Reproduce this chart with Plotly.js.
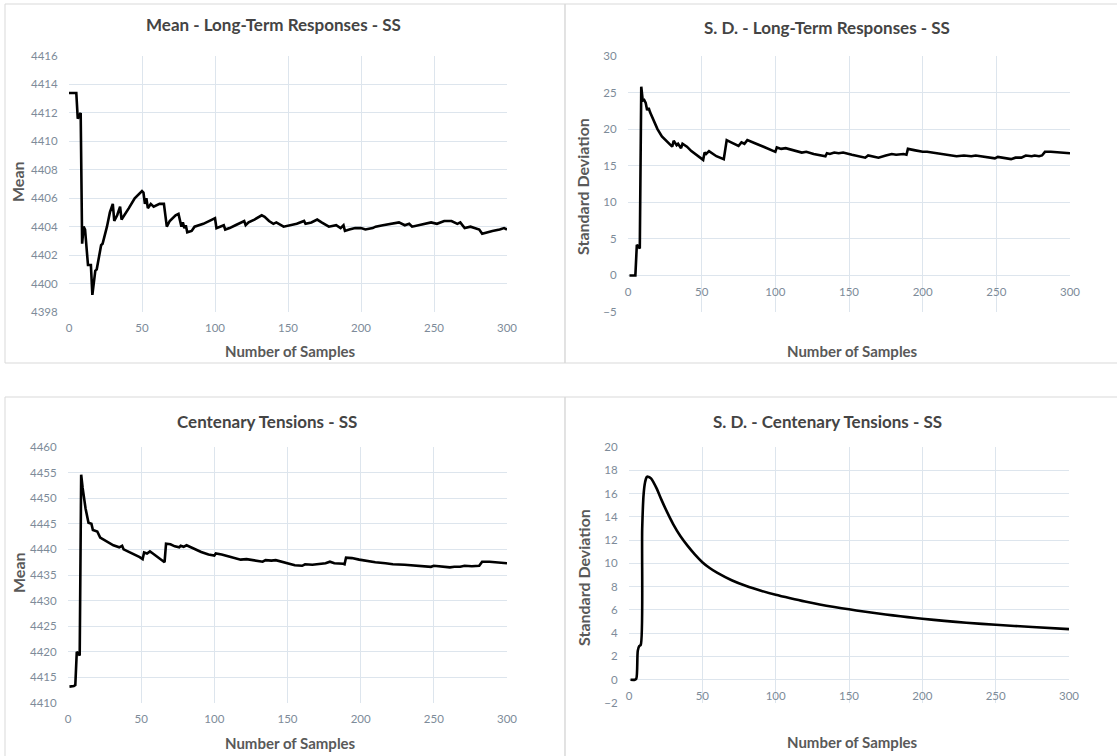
<!DOCTYPE html>
<html>
<head>
<meta charset="utf-8">
<script src="https://cdn.plot.ly/plotly-3.0.1.min.js"></script>
<style>
html,body{margin:0;padding:0;background:#fff;}
#chart{width:1117px;height:756px;}
</style>
</head>
<body>
<div id="chart"></div>
<script>
// ---------- DATA ----------
const titles = ["Mean - Long-Term Responses - SS", "S. D. - Long-Term Responses - SS",
                "Centenary Tensions - SS", "S. D. - Centenary Tensions - SS"];
const xAxisTitle = "Number of Samples";
const yAxisTitles = ["Mean", "Standard Deviation", "Mean", "Standard Deviation"];

// Panel 1: Mean - Long-Term Responses
const meanLtX = [0,5,6,7,8,9,10,11,12,13,15,16,18,19,22,23,26,28,30,31,33,35,36,38,41,45,50,51,52,53,54,56,58,62,65,67,69,73,75,77,78,79,80,81,84,86,90,92,98,100,101,103,106,107,110,114,118,120,121,123,127,132,134,137,140,142,147,152,156,161,162,166,170,173,176,178,183,186,188,189,192,196,200,203,208,210,215,220,226,230,233,235,240,248,252,257,262,266,268,271,275,279,281,283,286,290,295,298,300];
const meanLtY = [4413.4,4413.4,4411.6,4411.8,4412.0,4402.8,4404.0,4403.8,4402.6,4401.3,4401.3,4399.2,4400.9,4401.0,4402.7,4402.8,4404.0,4405.0,4405.6,4404.4,4404.8,4405.4,4404.5,4404.8,4405.3,4406.0,4406.5,4406.4,4405.6,4406.0,4405.3,4405.6,4405.4,4405.6,4405.6,4404.0,4404.4,4404.8,4404.9,4404.0,4404.3,4403.9,4404.1,4403.6,4403.7,4404.0,4404.1,4404.2,4404.5,4404.6,4403.9,4404.0,4404.1,4403.8,4403.9,4404.1,4404.3,4404.4,4404.1,4404.3,4404.5,4404.8,4404.7,4404.4,4404.2,4404.3,4404.0,4404.1,4404.2,4404.4,4404.2,4404.3,4404.5,4404.3,4404.1,4404.0,4404.1,4403.9,4404.1,4403.7,4403.8,4403.9,4403.9,4403.8,4403.9,4404.0,4404.1,4404.2,4404.3,4404.1,4404.2,4404.0,4404.1,4404.3,4404.2,4404.4,4404.4,4404.2,4404.3,4403.9,4404.0,4403.9,4403.8,4403.5,4403.6,4403.7,4403.8,4403.9,4403.8];

// Panel 2: S.D. - Long-Term Responses
const sdLtX = [1,5,6,8,9,10,11,12,13,14,15,17,20,23,27,30,31,33,34,36,37,40,43,47,51,52,53,55,57,60,65,67,70,74,75,77,79,81,83,87,92,97,100,101,104,107,112,118,121,126,134,135,137,140,143,146,152,156,161,163,166,170,175,179,182,187,189,190,195,200,203,210,217,223,228,233,236,243,249,251,255,260,263,267,270,274,276,279,281,283,287,292,296,300];
const sdLtY = [0,0,4.2,3.7,25.8,23.9,24.0,23.6,22.6,22.9,22.3,21.4,20.0,19.0,18.2,17.6,18.4,17.8,18.0,17.4,18.0,17.6,17.0,16.4,15.8,16.8,16.6,17.0,16.7,16.3,15.9,18.5,18.2,17.8,17.7,18.2,18.0,18.5,18.3,18.0,17.6,17.2,16.9,17.5,17.3,17.4,17.1,16.8,16.9,16.6,16.3,16.7,16.6,16.8,16.7,16.8,16.5,16.3,16.1,16.4,16.3,16.1,16.4,16.6,16.5,16.6,16.5,17.3,17.1,16.9,16.9,16.7,16.5,16.3,16.4,16.3,16.4,16.2,16.0,16.2,16.1,15.9,16.1,16.1,16.4,16.3,16.4,16.3,16.4,16.9,16.9,16.8,16.7,16.7];

// Panel 3: Mean - Centenary Tensions
const meanCtX = [1,4,5,6,8,9,10,12,14,16,17,20,22,25,29,31,35,37,38,42,45,49,51,52,54,56,58,61,64,66,67,70,73,76,77,79,81,84,87,91,96,100,101,105,110,115,118,122,128,133,135,139,142,146,150,155,160,162,167,172,176,179,182,188,189,190,194,199,203,210,217,222,230,237,243,248,250,256,261,264,268,271,276,281,283,288,295,300];
const meanCtY = [4413.2,4413.3,4413.5,4420.0,4419.3,4454.6,4452.0,4448.0,4445.2,4445.0,4443.8,4443.5,4442.3,4441.8,4441.2,4440.8,4440.4,4440.7,4440.0,4439.5,4439.0,4438.5,4438.1,4439.4,4439.2,4439.6,4439.2,4438.5,4437.8,4437.5,4441.1,4441.0,4440.6,4440.4,4440.7,4440.5,4440.8,4440.4,4440.0,4439.5,4439.0,4438.8,4439.2,4439.0,4438.6,4438.2,4438.0,4438.1,4437.8,4437.6,4437.9,4437.8,4437.9,4437.6,4437.2,4436.9,4436.8,4437.1,4437.0,4437.1,4437.3,4437.6,4437.3,4437.2,4437.1,4438.4,4438.3,4438.0,4437.8,4437.5,4437.3,4437.1,4437.0,4436.9,4436.7,4436.6,4436.8,4436.7,4436.5,4436.6,4436.6,4436.8,4436.7,4436.8,4437.6,4437.6,4437.4,4437.3];

// Panel 4: S.D. - Centenary Tensions
const sdCtX = [1,4,5,6,7,8,9,10,11,12,13,15,17,19,22,26,30,35,40,45,50,55,60,70,80,90,100,110,120,130,140,150,160,170,180,190,200,215,230,250,275,300];
const sdCtY = [0,0,0.1,2.5,2.9,3.0,13.0,16.0,17.0,17.4,17.45,17.3,16.9,16.4,15.5,14.4,13.4,12.35,11.5,10.75,10.1,9.6,9.2,8.55,8.05,7.65,7.3,7.0,6.72,6.47,6.25,6.05,5.86,5.69,5.53,5.38,5.24,5.06,4.9,4.72,4.53,4.35];

// ---------- LAYOUT HELPERS ----------
const W = 1117, H = 756;
const fx = p => p / W;
const fy = p => 1 - p / H;

const gridColor = "#dde5ed";
const tickFont = {family: "Lato, 'Open Sans', sans-serif", size: 11.5, color: "#7d8b99"};
const titleFont = {family: "Lato, 'Open Sans', sans-serif", size: 17, color: "#444444", weight: "bold"};
const axTitleFont = {family: "Lato, 'Open Sans', sans-serif", size: 15, color: "#595959", weight: "bold"};
const yTitleFont = {family: "Lato, 'Open Sans', sans-serif", size: 16, color: "#595959", weight: "bold"};

function xax(domain, anchor, extra) {
  return Object.assign({
    domain: domain, anchor: anchor, range: [0, 300], dtick: 50, tick0: 0,
    showgrid: true, gridcolor: gridColor, gridwidth: 1, zeroline: false,
    showline: false, ticks: "outside", ticklen: 5, tickcolor: "rgba(0,0,0,0)",
    tickfont: tickFont, fixedrange: true
  }, extra || {});
}
function yax(domain, anchor, range, dtick) {
  return {
    domain: domain, anchor: anchor, range: range, dtick: dtick, tick0: range[0],
    showgrid: true, gridcolor: gridColor, gridwidth: 1, zeroline: false,
    showline: false, ticks: "outside", ticklen: 8, tickcolor: "rgba(0,0,0,0)",
    tickfont: tickFont, fixedrange: true
  };
}

const lineStyle = {color: "#000000", width: 2.6};

const traces = [
  {x: meanLtX, y: meanLtY, xaxis: "x", yaxis: "y", type: "scatter", mode: "lines", line: lineStyle},
  {x: sdLtX, y: sdLtY, xaxis: "x2", yaxis: "y2", type: "scatter", mode: "lines", line: lineStyle},
  {x: meanCtX, y: meanCtY, xaxis: "x3", yaxis: "y3", type: "scatter", mode: "lines", line: lineStyle},
  {x: sdCtX, y: sdCtY, xaxis: "x4", yaxis: "y4", type: "scatter", mode: "lines",
   line: Object.assign({shape: "spline", smoothing: 0.8}, lineStyle)}
];

const topRow = [fy(312), fy(56)];
const botRow = [fy(703), fy(447)];

const layout = {
  width: W, height: H,
  margin: {l: 0, r: 0, t: 0, b: 0},
  paper_bgcolor: "#ffffff", plot_bgcolor: "#ffffff",
  showlegend: false,
  xaxis: xax([fx(69), fx(507)], "y"),
  yaxis: yax(topRow, "x", [4398, 4416], 2),
  xaxis2: xax([fx(628), fx(1070)], "free", {position: fy(275.7)}),
  yaxis2: yax(topRow, "x2", [-5, 30], 5),
  xaxis3: xax([fx(68), fx(507)], "y3"),
  yaxis3: yax(botRow, "x3", [4410, 4460], 5),
  xaxis4: xax([fx(629), fx(1069)], "free", {position: fy(679.7)}),
  yaxis4: yax(botRow, "x4", [-2, 20], 2),
  shapes: [
    {type: "rect", xref: "paper", yref: "paper", x0: fx(5), x1: fx(565), y0: fy(363), y1: fy(4), line: {color: "#d9d9d9", width: 1}},
    {type: "rect", xref: "paper", yref: "paper", x0: fx(565), x1: fx(1121), y0: fy(363), y1: fy(4), line: {color: "#d9d9d9", width: 1}},
    {type: "rect", xref: "paper", yref: "paper", x0: fx(5), x1: fx(565), y0: fy(760), y1: fy(397), line: {color: "#d9d9d9", width: 1}},
    {type: "rect", xref: "paper", yref: "paper", x0: fx(565), x1: fx(1121), y0: fy(760), y1: fy(397), line: {color: "#d9d9d9", width: 1}}
  ],
  annotations: []
};

function ann(text, xp, yp, font, angle) {
  layout.annotations.push({
    text: text, xref: "paper", yref: "paper", x: fx(xp), y: fy(yp),
    xanchor: "center", yanchor: "middle", showarrow: false, font: font,
    textangle: angle || 0
  });
}
// chart titles
ann(titles[0], 273, 25, titleFont);
ann(titles[1], 827, 28, titleFont);
ann(titles[2], 267, 421, titleFont);
ann(titles[3], 827, 421, titleFont);
// x-axis titles
ann(xAxisTitle, 290, 351, axTitleFont);
ann(xAxisTitle, 852, 351, axTitleFont);
ann(xAxisTitle, 290, 743, axTitleFont);
ann(xAxisTitle, 852, 742, axTitleFont);
// y-axis titles
ann(yAxisTitles[0], 18, 182, yTitleFont, -90);
ann(yAxisTitles[1], 583, 187, yTitleFont, -90);
ann(yAxisTitles[2], 18, 573, yTitleFont, -90);
ann(yAxisTitles[3], 583, 578, yTitleFont, -90);

Plotly.newPlot("chart", traces, layout, {staticPlot: true, displayModeBar: false});
</script>
</body>
</html>
